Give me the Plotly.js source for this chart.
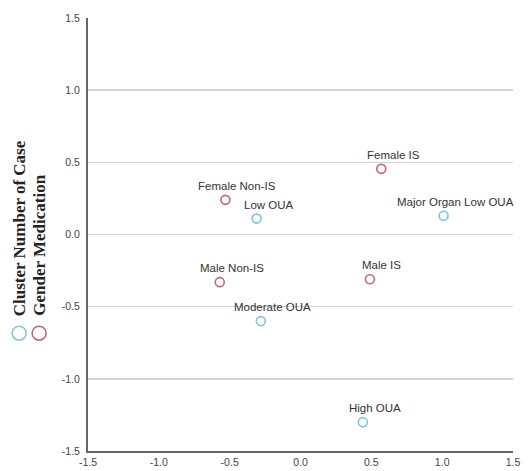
<!DOCTYPE html>
<html>
<head>
<meta charset="utf-8">
<script src="https://cdn.plot.ly/plotly-3.0.1.min.js"></script>
<style>html,body{margin:0;padding:0;background:#fff;}#chart{width:532px;height:471px;}</style>
</head>
<body>
<div id="chart"></div>
<script>
// Cluster Number of Case (blue)
const clusterLabels = ["Low OUA", "Major Organ Low OUA", "Moderate OUA", "High OUA"];
const clusterX = [-0.31, 1.01, -0.28, 0.44];
const clusterY = [0.11, 0.13, -0.60, -1.30];
// Gender Medication (red)
const genderLabels = ["Female IS", "Female Non-IS", "Male Non-IS", "Male IS"];
const genderX = [0.57, -0.53, -0.57, 0.49];
const genderY = [0.455, 0.24, -0.33, -0.31];
const seriesNames = ["Cluster Number of Case", "Gender Medication"];
const tickVals = [-1.5, -1.0, -0.5, 0.0, 0.5, 1.0, 1.5];
const tickText = ["-1.5", "-1.0", "-0.5", "0.0", "0.5", "1.0", "1.5"];

const blue = "#7ec3ea", red = "#c4647f";

const traces = [
  {x: clusterX, y: clusterY, mode: "markers", type: "scatter", name: seriesNames[0],
   marker: {symbol: "circle-open", size: 9, color: blue, line: {width: 1.6, color: blue}}},
  {x: genderX, y: genderY, mode: "markers", type: "scatter", name: seriesNames[1],
   marker: {symbol: "circle-open", size: 9, color: red, line: {width: 1.6, color: red}}}
];

const annotations = [];
function addLabels(xs, ys, labels) {
  for (let i = 0; i < xs.length; i++) {
    annotations.push({x: xs[i], y: ys[i], xref: "x", yref: "y", text: labels[i], showarrow: false,
      xshift: 12, yshift: 14, font: {family: "Liberation Sans, Arial", size: 11.5, color: "#333"}});
  }
}
addLabels(clusterX, clusterY, clusterLabels);
addLabels(genderX, genderY, genderLabels);

// pseudo-legend on the left
const legX = [-0.162, -0.115];
const legColors = [blue, red];
const shapes = [];
for (let i = 0; i < 2; i++) {
  annotations.push({xref: "paper", yref: "paper", x: legX[i], y: 0.307, xanchor: "center", yanchor: "bottom",
    text: "<b>" + seriesNames[i] + "</b>", textangle: -90, showarrow: false,
    font: {family: "Liberation Serif, Times New Roman", size: 17, color: "#222"}});
  shapes.push({type: "circle", xref: "paper", yref: "paper", xsizemode: "pixel", ysizemode: "pixel",
    xanchor: legX[i], yanchor: 0.272, x0: -7, x1: 7, y0: -7, y1: 7,
    line: {color: legColors[i], width: 1.6}});
}

const layout = {
  width: 532, height: 471,
  margin: {l: 88, r: 19, t: 18, b: 20},
  paper_bgcolor: "#fff", plot_bgcolor: "#fff",
  showlegend: false,
  xaxis: {range: [-1.5, 1.5], tickvals: tickVals, ticktext: tickText, showgrid: false, zeroline: false,
    showline: true, linecolor: "#666", linewidth: 2, ticks: "", ticklen: 0,
    tickfont: {family: "Liberation Sans, Arial", size: 10.5, color: "#444"}},
  yaxis: {range: [-1.5, 1.5], tickvals: tickVals, ticktext: tickText, showgrid: true, gridcolor: "#d4d4d4", gridwidth: 1.5,
    zeroline: false, showline: true, linecolor: "#666", linewidth: 2, ticks: "", ticklabelstandoff: 4,
    tickfont: {family: "Liberation Sans, Arial", size: 10.5, color: "#444"}},
  annotations: annotations,
  shapes: shapes
};

Plotly.newPlot("chart", traces, layout, {displayModeBar: false, staticPlot: true});
</script>
</body>
</html>
